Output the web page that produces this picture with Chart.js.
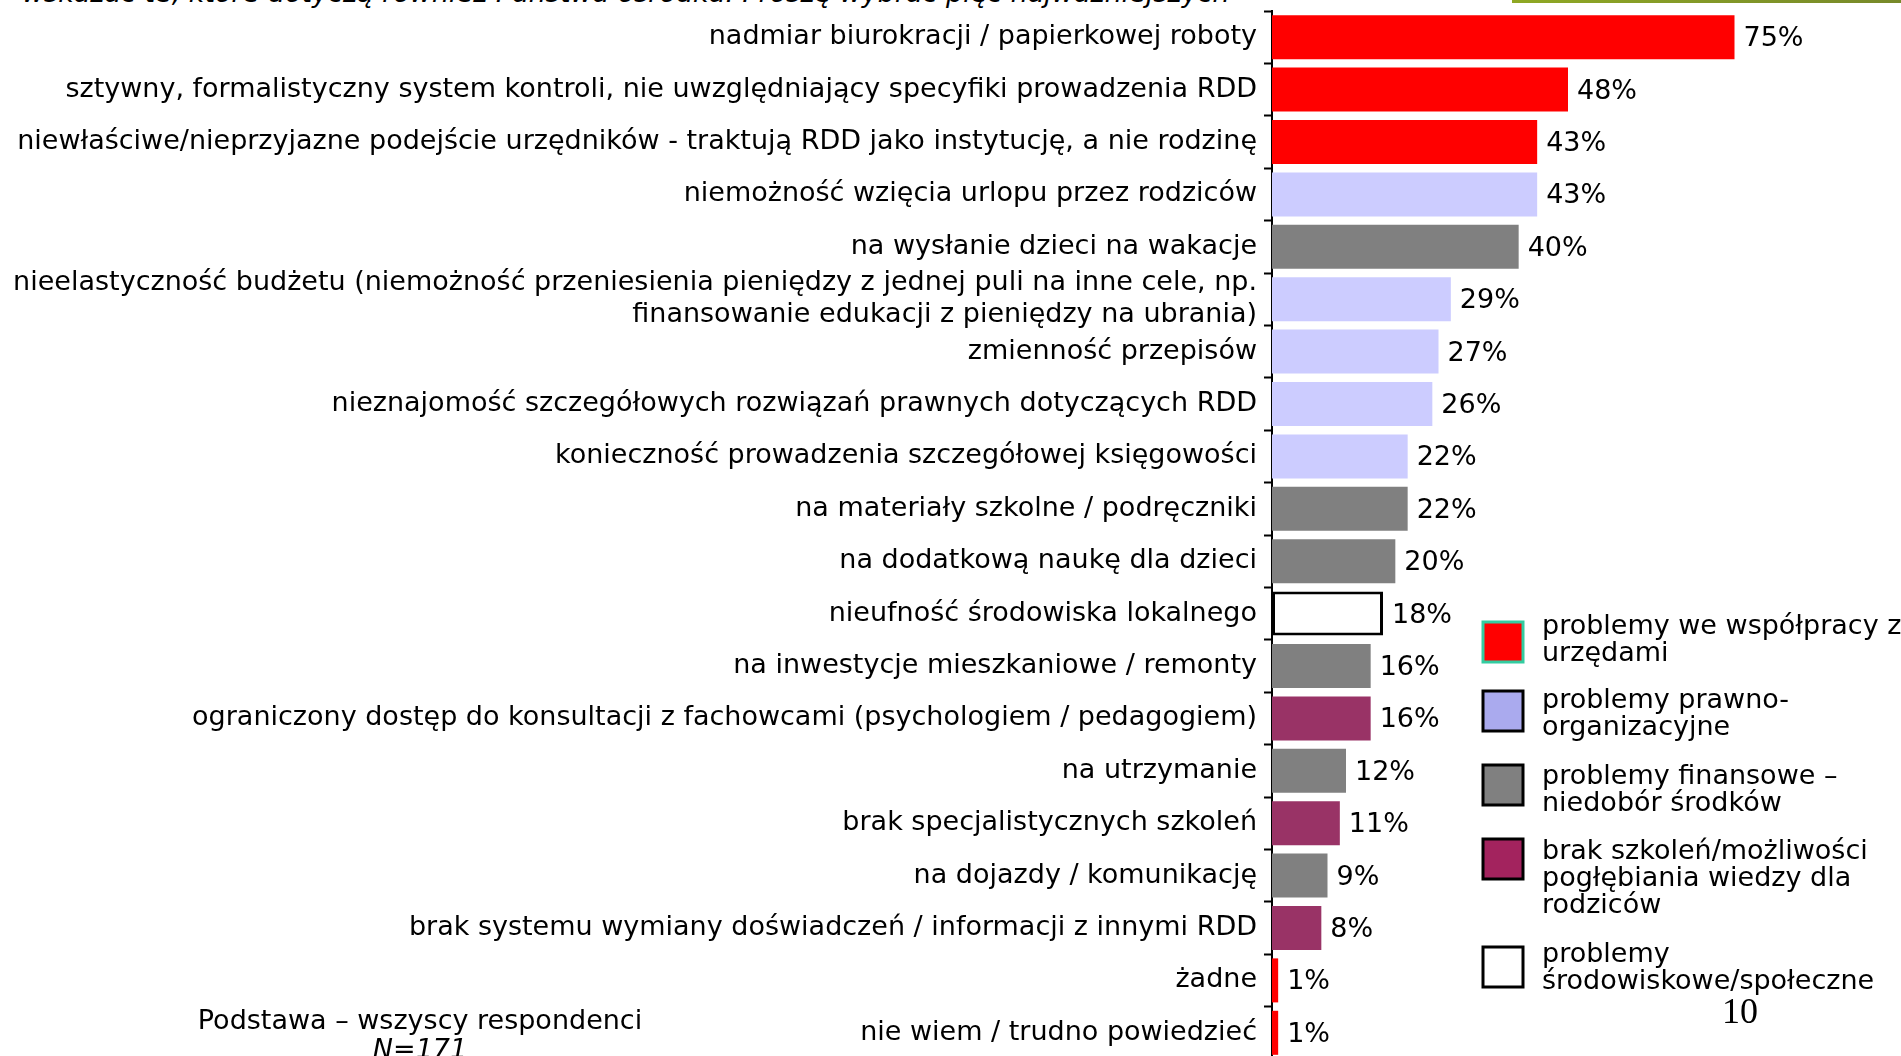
<!DOCTYPE html>
<html>
<head>
<meta charset="utf-8">
<script src="https://cdn.jsdelivr.net/npm/chart.js@4.4.0/dist/chart.umd.min.js"></script>
<style>
  body { margin: 0; width: 1901px; height: 1056px; overflow: hidden; background: #fff; position: relative; font-family: "DejaVu Sans", Verdana, sans-serif; }
  #wrap { position: absolute; left: 0; top: 0; width: 1901px; height: 1060px; }
  .txt { position: absolute; color: #000; white-space: nowrap; }
  #pytanie { left: 22px; top: -23px; font-size: 27px; font-style: italic; }
  #zielona { position: absolute; left: 1512px; top: 0; width: 389px; height: 3px; background: linear-gradient(90deg, #8fa824, #77892a); }
  #podstawa { left: 420px; top: 1005px; font-size: 27px; transform: translateX(-50%); text-align: center; line-height: 29px; }
  #strona { left: 1722px; top: 990px; font-family: "Liberation Serif", serif; font-size: 36px; }
</style>
</head>
<body>
<div class="txt" id="pytanie">wskazać te, które dotyczą również Państwa ośrodka. Proszę wybrać pięć najważniejszych</div>
<div id="zielona"></div>
<div id="wrap"><canvas id="myChart" width="1901" height="1060"></canvas></div>
<div class="txt" id="podstawa">Podstawa – wszyscy respondenci<br><i>N=171</i></div>
<div class="txt" id="strona">10</div>
<script>
const kategorie = [
  "nadmiar biurokracji / papierkowej roboty",
  "sztywny, formalistyczny system kontroli, nie uwzględniający specyfiki prowadzenia RDD",
  "niewłaściwe/nieprzyjazne podejście urzędników - traktują RDD jako instytucję, a nie rodzinę",
  "niemożność wzięcia urlopu przez rodziców",
  "na wysłanie dzieci na wakacje",
  ["nieelastyczność budżetu (niemożność przeniesienia pieniędzy z jednej puli na inne cele, np.", "finansowanie edukacji z pieniędzy na ubrania)"],
  "zmienność przepisów",
  "nieznajomość szczegółowych rozwiązań prawnych dotyczących RDD",
  "konieczność prowadzenia szczegółowej księgowości",
  "na materiały szkolne / podręczniki",
  "na dodatkową naukę dla dzieci",
  "nieufność środowiska lokalnego",
  "na inwestycje mieszkaniowe / remonty",
  "ograniczony dostęp do konsultacji z fachowcami (psychologiem / pedagogiem)",
  "na utrzymanie",
  "brak specjalistycznych szkoleń",
  "na dojazdy / komunikację",
  "brak systemu wymiany doświadczeń / informacji z innymi RDD",
  "żadne",
  "nie wiem / trudno powiedzieć"
];
const wartosci = [75, 48, 43, 43, 40, 29, 27, 26, 22, 22, 20, 18, 16, 16, 12, 11, 9, 8, 1, 1];
// 0 urzedy, 1 prawno-organizacyjne, 2 finansowe, 3 szkolenia, 4 srodowiskowe
const grupy = [0, 0, 0, 1, 2, 1, 1, 1, 1, 2, 2, 4, 2, 3, 2, 3, 2, 3, 0, 0];

const kolorySlupkow = ["#FF0000", "#CCCCFF", "#808080", "#993366", "#FFFFFF"];
const ramkiSlupkow = ["#FF0000", "#CCCCFF", "#808080", "#993366", "#000000"];

const legendaTeksty = [
  ["problemy we współpracy z", "urzędami"],
  ["problemy prawno-", "organizacyjne"],
  ["problemy finansowe –", "niedobór środków"],
  ["brak szkoleń/możliwości", "pogłębiania wiedzy dla", "rodziców"],
  ["problemy", "środowiskowe/społeczne"]
];
const legendaKolory = ["#FF0000", "#AAAAEE", "#808080", "#A3235E", "#FFFFFF"];
const legendaRamki = ["#33CCA0", "#000000", "#000000", "#000000", "#000000"];

const FONT = '"DejaVu Sans", Verdana, sans-serif';

const etykietyWartosci = {
  id: "etykietyWartosci",
  afterDatasetsDraw(chart) {
    const ctx = chart.ctx;
    const meta = chart.getDatasetMeta(0);
    ctx.save();
    ctx.font = "27px " + FONT;
    ctx.fillStyle = "#000";
    ctx.textBaseline = "middle";
    ctx.textAlign = "left";
    meta.data.forEach((bar, i) => {
      ctx.fillText(wartosci[i] + "%", bar.x + 9, bar.y + 2);
    });
    ctx.restore();
  }
};

const legenda = {
  id: "legenda",
  afterDraw(chart) {
    const ctx = chart.ctx;
    const kwadraty = [622, 691, 765, 839, 947];
    const teksty = [627, 701, 777, 852, 955];
    ctx.save();
    ctx.font = "27px " + FONT;
    ctx.textBaseline = "middle";
    legendaTeksty.forEach((linie, i) => {
      const y = kwadraty[i];
      ctx.fillStyle = legendaKolory[i];
      ctx.fillRect(1483, y, 40, 40);
      ctx.lineWidth = 3;
      ctx.strokeStyle = legendaRamki[i];
      ctx.strokeRect(1483, y, 40, 40);
      ctx.fillStyle = "#000";
      linie.forEach((t, j) => {
        ctx.fillText(t, 1542, teksty[i] + j * 27);
      });
    });
    ctx.restore();
  }
};

const grafica = document.getElementById("myChart").getContext("2d");
const myChart = new Chart(grafica, {
  type: "bar",
  data: {
    labels: kategorie,
    datasets: [
      {
        data: wartosci,
        backgroundColor: grupy.map((g) => kolorySlupkow[g]),
        borderColor: grupy.map((g) => ramkiSlupkow[g]),
        borderWidth: grupy.map((g) => (g === 4 ? 3 : 0)),
        borderSkipped: false,
        barPercentage: 0.84,
        categoryPercentage: 1.0,
      },
    ],
  },
  options: {
    indexAxis: "y",
    responsive: false,
    animation: false,
    layout: { padding: { top: 11, bottom: 1, left: 0, right: 0 } },
    plugins: {
      legend: { display: false },
      tooltip: { enabled: false },
    },
    scales: {
      x: {
        display: false,
        min: 0,
        max: 102,
      },
      y: {
        afterFit(scale) {
          scale.width = 1272;
          scale.paddingTop = 0;
          scale.paddingBottom = 0;
        },
        grid: {
          drawOnChartArea: false,
          tickLength: 8,
          tickWidth: 2,
          color: "#000",
          offset: true,
        },
        border: { color: "#000", width: 2 },
        ticks: {
          color: "#000",
          padding: 7,
          autoSkip: false,
          font: { family: FONT, size: 27, lineHeight: 1.2 },
        },
      },
    },
  },
  plugins: [etykietyWartosci, legenda],
});
</script>
</body>
</html>
